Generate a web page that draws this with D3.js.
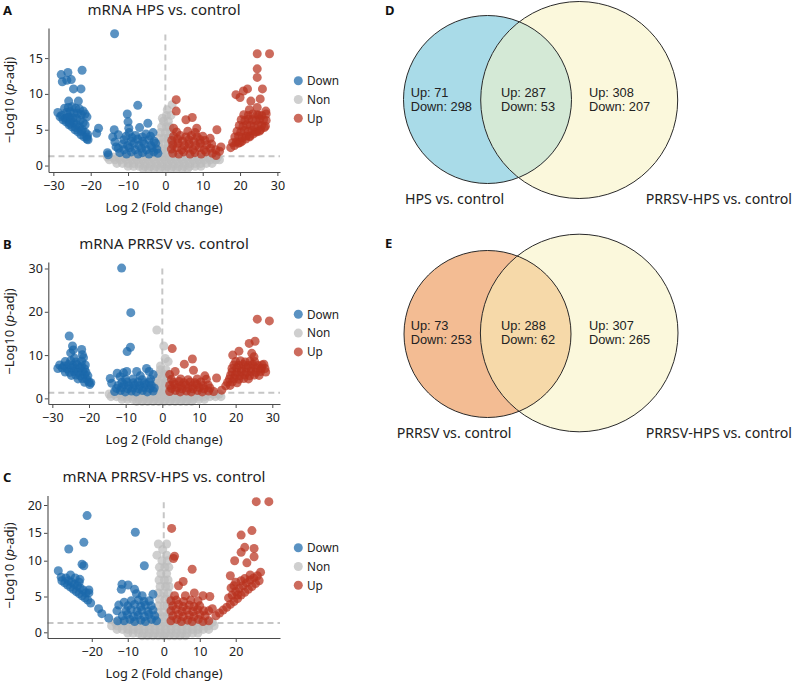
<!DOCTYPE html>
<html><head><meta charset="utf-8">
<script src="https://cdn.jsdelivr.net/npm/d3@7"></script>
<style>body{margin:0;background:#fff} svg{display:block}</style>
</head><body><svg id="c" width="793" height="683"></svg>
<script>
// ---------------- DATA ----------------
const legendLabels = ["Down", "Non", "Up"];
const volcanoTitles = ["mRNA HPS vs. control", "mRNA PRRSV vs. control", "mRNA PRRSV-HPS vs. control"];
const panelLetters = ["A", "B", "C", "D", "E"];
const xTicksA = [-30, -20, -10, 0, 10, 20, 30];
const xTicksB = [-30, -20, -10, 0, 10, 20, 30];
const xTicksC = [-20, -10, 0, 10, 20];
const yTicksA = [0, 5, 10, 15];
const yTicksB = [0, 10, 20, 30];
const yTicksC = [0, 5, 10, 15, 20];
const pAdjCut = 1.3;   // -log10(0.05)
const foldCut = 0;

// Panel A: HPS vs control  [log2FC, -log10 padj]
const hpsDown = [
[-13.6,18.4],[-22.3,13.3],[-27.9,12.7],[-26.1,13.0],[-27.6,11.7],[-25.2,12.0],[-26.4,11.9],[-24.6,10.7],[-22.6,10.7],[-25.9,9.0],[-23.3,9.0],[-28.8,7.4],
[-27,8.0],[-26,8.1],[-25,8.2],[-24,8.0],[-23,7.9],[-22,7.6],[-26.5,7.4],[-25.5,7.5],[-24.5,7.3],[-23.5,7.3],[-22.5,7.1],[-21.5,7.2],[-21,6.8],[-27.8,7.0],[-26.8,6.6],[-25.8,6.8],[-24.8,6.6],[-23.8,6.6],[-22.8,6.3],[-22,6.0],[-21.5,5.7],
[-28.2,6.8],[-27.4,6.4],[-26.6,6.1],[-25.8,5.7],[-25,5.4],[-24.2,5.0],[-23.4,4.7],[-22.6,4.3],[-21.8,4.0],[-21,3.7],
[-26.2,6.7],[-25.4,6.3],[-24.6,6.0],[-23.8,5.7],[-23,5.4],[-22.2,5.0],[-21.4,4.6],[-20.8,4.3],[-25.6,5.9],[-24,5.3],[-22.5,4.8],[-21,4.0],[-20.7,3.6],
[-17.9,5.2],[-18.4,4.5],[-15.5,1.8],[-15.3,1.5],
[-10.2,7.2],[-7.4,8.4],[-10,6.1],[-9.8,5.2],[-6.9,5.3],[-4.7,5.9],[-13.7,5.0],[-14.1,4.0],[-9.7,4.6],[-13.5,3.3],[-13.2,2.6],
[-12.2,1.8],[-10.4,1.6],[-9.1,1.9],[-7.3,1.6],[-6.1,1.8],[-4.4,1.6],[-3.1,1.9],[-2.0,1.7],
[-12.6,2.4],[-11.1,2.2],[-9.6,2.5],[-8.1,2.2],[-6.4,2.4],[-5.1,2.2],[-3.6,2.5],[-2.3,2.3],
[-11.4,3.0],[-10.1,2.8],[-8.4,3.1],[-7.1,2.8],[-5.6,3.0],[-3.9,2.8],[-2.6,3.1],
[-11.1,3.6],[-9.2,3.4],[-7.4,3.7],[-6.1,3.4],[-4.4,3.6],[-3.0,3.4],
[-10.5,4.1],[-8,4.2],[-6.2,4.0],[-4,4.1],
[-12.6,4.3],[-8.9,3.9],[-5.2,4.4],[-3.3,4.6]
];
const hpsUp = [
[24.6,15.6],[27.9,15.6],[24.6,13.5],[24.6,12.3],[22.0,10.7],[26.0,10.7],[18.9,9.9],[20.0,9.5],[20.9,10.4],[22.9,9.0],[25.4,9.3],[24.6,8.1],[22.5,7.8],[26.9,7.6],[25.0,7.0],
[17.5,2.5],[18.5,2.8],[19.5,3.1],[20.5,3.4],[21.5,3.7],[22.5,4.1],[23.5,4.4],[24.5,4.7],[25.5,5.0],[26.5,5.3],
[18,3.2],[19,3.3],[20,3.2],
[18.6,4.0],[19.6,4.1],[20.6,3.9],[21.6,4.1],[22.6,4.0],
[19.2,4.8],[20.2,4.7],[21.2,4.9],[22.2,4.8],[23.2,4.9],[24.2,4.7],[25.2,4.8],
[19.8,5.6],[20.8,5.5],[21.8,5.7],[22.8,5.6],[23.8,5.5],[24.8,5.7],[25.8,5.6],[26.8,5.5],
[20.3,6.4],[21.3,6.3],[22.3,6.5],[23.3,6.4],[24.3,6.3],[25.3,6.5],[26.3,6.4],[27,6.3],
[21,7.1],[22.2,7.0],[23.4,7.2],[24.6,7.1],[25.8,7.0],[27,7.2],
[2.0,1.7],[3.6,1.6],[4.9,1.9],[6.6,1.6],[7.9,1.8],[9.6,1.6],[10.9,1.9],[12.6,1.7],
[1.6,2.3],[3.1,2.5],[4.4,2.2],[6.1,2.4],[7.4,2.2],[9.1,2.5],[10.4,2.2],[12.1,2.4],[13.5,2.2],
[2.0,2.9],[3.4,3.1],[5.1,2.8],[6.4,3.0],[8.1,2.8],[9.4,3.1],[11.1,2.9],[12.4,3.0],
[1.7,3.5],[3.3,3.7],[4.6,3.4],[6.3,3.6],[7.6,3.4],[9.3,3.6],[10.6,3.5],
[2.2,4.1],[4,4.2],[5.5,4.0],[7,4.2],[8.5,4.0],[10,4.1],
[3,4.7],[6,4.8],[8,4.6],
[2.9,9.2],[2.9,7.6],[5.5,6.4],[7.2,6.7],[8.4,5.2],[13.8,5.0],[14.9,2.6],[13.6,1.4],[2.2,5.2],[12,3.8],[14.5,2.0]
];
const hpsNon = [
[-6,-0.4],[-4.5,-0.4],[-3,-0.4],[-1.5,-0.4],[0,-0.4],[1.5,-0.4],[3,-0.4],[4.5,-0.4],[6,-0.4],
[-10,-0.1],[-8.5,-0.1],[-7,-0.1],[-5.5,-0.1],[-4,-0.1],[-2.5,-0.1],[-1,-0.1],[0.5,-0.1],[2,-0.1],[3.5,-0.1],[5,-0.1],[6.5,-0.1],[8,-0.1],[9.5,-0.1],
[-13,0.3],[-11.5,0.3],[-10,0.3],[-8.5,0.3],[-7,0.3],[-5.5,0.3],[-4,0.3],[-2.5,0.3],[-1,0.3],[0.5,0.3],[2,0.3],[3.5,0.3],[5,0.3],[6.5,0.3],[8,0.3],[9.5,0.3],[11,0.3],[12.5,0.3],
[-15,0.8],[-13.5,0.8],[-12,0.8],[-10.5,0.8],[-9,0.8],[-7.5,0.8],[-6,0.8],[-4.5,0.8],[-3,0.8],[-1.5,0.8],[0,0.8],[1.5,0.8],[3,0.8],[4.5,0.8],[6,0.8],[7.5,0.8],[9,0.8],[10.5,0.8],[12,0.8],[13.5,0.8],[14.5,0.8],
[-15.5,1.2],[-14,1.2],[-12.5,1.2],[-11,1.2],[-9.5,1.2],[-8,1.2],[-6.5,1.2],[-5,1.2],[-3.5,1.2],[-2,1.2],[-0.5,1.2],[1,1.2],[2.5,1.2],[4,1.2],[5.5,1.2],[7,1.2],[8.5,1.2],[10,1.2],[11.5,1.2],[13,1.2],[14,1.2],
[-4,1.7],[-2.5,1.7],[-1,1.7],[0.5,1.7],[2,1.7],
[-2,2.3],[-0.8,2.3],[0.5,2.3],[1.6,2.3],
[-1.8,3.0],[-0.5,3.0],[0.8,3.0],[1.8,3.0],
[-1.6,3.8],[-0.4,3.8],[0.7,3.8],[1.6,3.8],
[-1.3,4.6],[0,4.6],[1.2,4.6],
[-1,5.4],[0.3,5.4],[1.2,5.4],
[-0.5,6.2],[0.8,6.2],[0.3,7.0],[1.5,7.0],
[1.8,8.5],[-0.8,6.6],[0.5,7.8]
];

// Panel B: PRRSV vs control
const prrsvDown = [
[-11.1,30.1],[-8.6,19.8],[-8.7,11.8],[-9.6,10.8],[-25.4,14.4],[-24.5,12.1],[-24.3,11.2],[-22.0,11.3],[-21.8,10.1],[-21.5,9.4],[-24,9.3],[-25,10.5],
[-26.5,8.5],[-25,8.7],[-23.5,8.4],[-22,8.6],
[-28,7.7],[-26.8,7.5],[-25.6,7.8],[-24.4,7.6],[-23.2,7.8],[-22,7.5],[-21,7.7],
[-28.5,6.9],[-27.3,7.0],[-26,6.8],[-24.8,7.0],[-23.6,6.8],[-22.4,7.0],[-21.2,6.8],
[-26.5,6.1],[-25.3,6.0],[-24.1,6.2],[-22.9,6.0],[-21.7,6.2],[-20.8,6.0],
[-24.8,5.3],[-23.6,5.4],[-22.4,5.2],[-21.2,5.4],[-20.3,5.2],
[-23,4.5],[-21.8,4.6],[-20.6,4.4],
[-21.2,3.7],[-20,3.8],[-19.5,3.6],[-19.8,3.2],
[-12.3,5.8],[-10.6,5.9],[-9.7,6.2],[-7.0,6.2],[-4.3,6.9],[-3.6,6.2],[-14.2,4.6],[-13.8,3.5],[-11.5,5.0],[-6,5.2],[-2.5,5.5],
[-13,1.6],[-11.4,1.8],[-10.1,1.5],[-8.4,1.7],[-7.1,1.5],[-5.4,1.8],[-4.1,1.5],[-2.5,1.7],
[-12.5,2.3],[-11.1,2.5],[-9.4,2.2],[-8.1,2.4],[-6.4,2.2],[-5.1,2.5],[-3.4,2.3],[-2.2,2.4],
[-12,3.0],[-10.4,3.2],[-9.1,2.9],[-7.4,3.1],[-6.1,2.9],[-4.4,3.2],[-3,3.0],
[-11,3.7],[-9.6,3.8],[-7.9,3.6],[-6.6,3.8],[-4.9,3.6],[-3.5,3.8],
[-10,4.4],[-8,4.5],[-5.5,4.3],[-3.2,4.4]
];
const prrsvUp = [
[25.9,18.3],[29.2,17.9],[23.7,12.7],[25.3,13.2],[19.2,10.0],[20.9,10.9],[24.4,10.4],[25.0,9.6],[27.7,7.9],[27.1,7.0],
[20,8.5],[21.3,8.7],[22.6,8.4],[23.9,8.6],[25.2,8.5],
[19.5,7.7],[20.8,7.6],[22.1,7.8],[23.4,7.6],[24.7,7.8],[26,7.6],[27.2,7.7],
[19,6.9],[20.3,7.0],[21.6,6.8],[22.9,7.0],[24.2,6.8],[25.5,7.0],[26.8,6.8],[28,6.9],
[19,6.1],[20.3,6.0],[21.6,6.2],[22.9,6.0],[24.2,6.2],[25.5,6.0],[26.8,6.2],[28.2,6.1],
[18.6,5.3],[19.9,5.4],[21.2,5.2],[22.5,5.4],[23.8,5.2],[25.1,5.4],[26.4,5.3],
[18.3,4.5],[19.6,4.6],[20.9,4.4],[22.2,4.6],[23.5,4.5],
[17.8,3.7],[19.1,3.8],[20.4,3.6],[17.3,2.9],[18.5,3.0],
[2.7,11.5],[8.2,9.1],[6.0,7.9],[3.5,6.2],[16.2,1.9],[14.8,4.7],[11.6,5.2],[8.5,6.5],[2,5.5],
[2,1.6],[3.6,1.8],[4.9,1.5],[6.6,1.7],[7.9,1.5],[9.6,1.8],[10.9,1.5],[12.6,1.7],[14,1.6],
[2.5,2.3],[4.1,2.5],[5.4,2.2],[7.1,2.4],[8.4,2.2],[10.1,2.5],[11.4,2.2],[13,2.4],
[2,3.0],[3.4,3.2],[5.1,2.9],[6.4,3.1],[8.1,2.9],[9.4,3.2],[11.1,3.0],[12.5,3.1],
[3,3.7],[4.6,3.9],[5.9,3.6],[7.6,3.8],[8.9,3.6],[10.5,3.8],
[2.5,4.4],[5,4.5],[7,4.3],[9.5,4.5],[12,4.4]
];
const prrsvNon = [
[-7,-0.7],[-5.5,-0.7],[-4,-0.7],[-2.5,-0.7],[-1,-0.7],[0.5,-0.7],[2,-0.7],[3.5,-0.7],[5,-0.7],[6.5,-0.7],[8,-0.7],
[-11,-0.2],[-9.5,-0.2],[-8,-0.2],[-6.5,-0.2],[-5,-0.2],[-3.5,-0.2],[-2,-0.2],[-0.5,-0.2],[1,-0.2],[2.5,-0.2],[4,-0.2],[5.5,-0.2],[7,-0.2],[8.5,-0.2],[10,-0.2],[11.5,-0.2],
[-14,0.4],[-12.5,0.4],[-11,0.4],[-9.5,0.4],[-8,0.4],[-6.5,0.4],[-5,0.4],[-3.5,0.4],[-2,0.4],[-0.5,0.4],[1,0.4],[2.5,0.4],[4,0.4],[5.5,0.4],[7,0.4],[8.5,0.4],[10,0.4],[11.5,0.4],[13,0.4],[14.5,0.4],[16,0.4],
[-14.5,1.0],[-13,1.0],[-11.5,1.0],[-10,1.0],[-8.5,1.0],[-7,1.0],[-5.5,1.0],[-4,1.0],[-2.5,1.0],[-1,1.0],[0.5,1.0],[2,1.0],[3.5,1.0],[5,1.0],[6.5,1.0],[8,1.0],[9.5,1.0],[11,1.0],[12.5,1.0],[14,1.0],[15.5,1.0],
[-4,1.8],[-2.5,1.8],[-1,1.8],[0.5,1.8],[2,1.8],
[-2.2,2.7],[-0.8,2.7],[0.6,2.7],[1.8,2.7],
[-1.8,3.6],[-0.5,3.6],[0.9,3.6],[1.9,3.6],
[-1.5,4.6],[0,4.6],[1.4,4.6],
[-1,5.6],[0.5,5.6],[1.5,5.6],
[-0.5,6.6],[1,6.6],
[-1.5,15.8],[0.4,12.1],[1.6,8.5],[0.8,9.2],[-0.5,7.5]
];

// Panel C: PRRSV-HPS vs control
const phDown = [
[-21.3,18.1],[-7.9,15.1],[-26.4,12.1],[-22.2,13.3],[-22.7,9.5],[-22.2,9.3],[-29.3,8.6],[-5.4,9.3],[-25.9,8.0],[-23.3,7.4],[-28.5,7.7],
[-28.3,7.2],[-27.5,6.9],[-26.7,6.6],[-25.9,6.3],[-25.1,6.0],[-24.3,5.7],[-23.5,5.4],[-22.7,5.1],[-21.9,4.8],[-21.1,4.5],[-20.3,4.1],
[-27.2,7.6],[-26.4,7.2],[-25.6,7.0],[-24.8,6.7],[-24,6.5],[-23.2,6.2],[-22.4,5.9],[-21.6,5.5],[-20.8,5.5],[-24.6,7.6],[-23.5,7.0],
[-20.8,5.9],[-18.1,3.3],[-17.2,2.6],[-15.3,2.0],[-12.5,3.8],[-12.8,1.6],[-11.6,6.7],[-11.8,6.0],[-9.9,6.6],[-8.1,6.0],[-7.6,5.4],[-13,3.0],
[-11,1.6],[-9.4,1.8],[-8.1,1.5],[-6.4,1.7],[-5.1,1.5],[-3.4,1.8],[-2,1.6],
[-11.5,2.3],[-10.1,2.5],[-8.4,2.2],[-7.1,2.4],[-5.4,2.2],[-4.1,2.5],[-2.5,2.3],
[-10.5,3.0],[-9.1,3.2],[-7.4,2.9],[-6.1,3.1],[-4.4,2.9],[-3,3.1],
[-10,3.7],[-8.1,3.9],[-6.4,3.6],[-5.1,3.8],[-3.5,3.7],
[-9,4.4],[-7,4.5],[-5.5,4.3],[-4,4.4],
[-11,4.2],[-6,5.1],[-3,5.3]
];
const phUp = [
[25.7,20.6],[29.2,20.6],[2.2,15.8],[21.5,14.6],[24.5,15.4],[22.5,12.4],[25.1,12.2],[21.5,11.5],[2.7,10.4],[3.0,10.8],[19.7,10.0],[23.1,9.7],[25.1,10.7],[7.9,8.8],[18.5,7.9],[26.9,8.4],
[14.5,2.3],[15.5,2.7],[16.5,3.1],[17.5,3.5],[18.5,3.9],[19.5,4.3],[20.5,4.7],[21.5,5.2],[22.5,5.6],[23.5,6.0],[24.5,6.4],[25.5,6.8],[26.5,7.2],
[18,4.8],[19,5.2],[20,5.7],[21,6.1],[22,6.5],[23,6.9],[24,7.3],[25,7.6],[19.5,6.5],[21.5,7.2],[20.5,5.2],[20,7.0],[22.5,7.5],[24,8.0],[18.7,6.2],[26,7.9],
[5.4,7.1],[4.1,6.5],[10.9,5.1],[12.8,5.0],[13.5,3.3],[8.5,5.5],
[2,1.6],[3.6,1.8],[4.9,1.5],[6.6,1.7],[7.9,1.5],[9.6,1.8],[10.9,1.5],[12.5,1.6],
[2.5,2.3],[4.1,2.5],[5.4,2.2],[7.1,2.4],[8.4,2.2],[10.1,2.5],[11.5,2.3],
[2,3.0],[3.4,3.2],[5.1,2.9],[6.4,3.1],[8.1,2.9],[9.4,3.2],[11.1,3.0],[12.5,3.0],
[2.5,3.7],[4.1,3.9],[5.4,3.6],[7.1,3.8],[8.4,3.6],[10,3.7],
[2,4.4],[3.5,4.5],[5.5,4.3],[7.5,4.5],[9.5,4.4],
[3,5.1],[6,5.1]
];
const phNon = [
[-6,-0.5],[-4.5,-0.5],[-3,-0.5],[-1.5,-0.5],[0,-0.5],[1.5,-0.5],[3,-0.5],[4.5,-0.5],[6,-0.5],
[-10,-0.1],[-8.5,-0.1],[-7,-0.1],[-5.5,-0.1],[-4,-0.1],[-2.5,-0.1],[-1,-0.1],[0.5,-0.1],[2,-0.1],[3.5,-0.1],[5,-0.1],[6.5,-0.1],[8,-0.1],[9.5,-0.1],
[-13,0.4],[-11.5,0.4],[-10,0.4],[-8.5,0.4],[-7,0.4],[-5.5,0.4],[-4,0.4],[-2.5,0.4],[-1,0.4],[0.5,0.4],[2,0.4],[3.5,0.4],[5,0.4],[6.5,0.4],[8,0.4],[9.5,0.4],[11,0.4],[12.5,0.4],
[-14.5,0.9],[-13,0.9],[-11.5,0.9],[-10,0.9],[-8.5,0.9],[-7,0.9],[-5.5,0.9],[-4,0.9],[-2.5,0.9],[-1,0.9],[0.5,0.9],[2,0.9],[3.5,0.9],[5,0.9],[6.5,0.9],[8,0.9],[9.5,0.9],[11,0.9],[12.5,0.9],[14,0.9],
[-13.5,1.4],[-12,1.4],[-10.5,1.4],[-9,1.4],[-7.5,1.4],[-6,1.4],[-4.5,1.4],[-3,1.4],[-1.5,1.4],[0,1.4],[1.5,1.4],[3,1.4],[4.5,1.4],[6,1.4],[7.5,1.4],[9,1.4],[10.5,1.4],[12,1.4],[13.5,1.4],
[-1.5,2.1],[0,2.1],[1.5,2.1],
[-1.5,2.8],[0,2.8],[1.5,2.8],[-1.5,3.7],[0,3.7],[1.5,3.7],
[-1.2,4.6],[0.3,4.6],[1.5,4.6],[-1.5,5.5],[0,5.5],[1.3,5.5],
[-1,6.4],[0.5,6.4],[1.5,6.4],[-1.3,7.3],[0.2,7.3],[1.2,7.3],
[-0.8,8.2],[0.8,8.2],[-1.2,9.1],[0.3,9.1],[1.4,9.1],
[-0.5,10.0],[1,10.0],[-1.9,11.0],[0.8,11.0],[-0.3,12.0],[-1.5,13.0],[0.8,13.0]
];

// Venn diagrams
const vennDSets = ["HPS vs. control", "PRRSV-HPS vs. control"];
const vennDUp = [71, 287, 308];      // left only, shared, right only
const vennDDown = [298, 53, 207];
const vennESets = ["PRRSV vs. control", "PRRSV-HPS vs. control"];
const vennEUp = [73, 288, 307];
const vennEDown = [253, 62, 265];

// ---------------- DRAWING ----------------
const svg = d3.select("#c");
const FONT = "'Noto Sans', 'Open Sans', sans-serif";
const FONT_COUNTS = "'Liberation Sans', Arial, sans-serif";
const COLORS = {Down: "#1b68aa", Non: "#bdbdbd", Up: "#b8321f"};
const OPAC = 0.72;

function volcano(p) {
  const g = svg.append("g");
  const x = d3.scaleLinear().domain(p.xDomain).range([p.left, p.right]);
  const y = d3.scaleLinear().domain(p.yDomain).range(p.yRange);
  const yBottom = p.yRange[0];

  g.append("line").attr("x1", x(foldCut)).attr("x2", x(foldCut))
    .attr("y1", y(p.vTop)).attr("y2", yBottom)
    .attr("stroke", "#c6c6c6").attr("stroke-width", 2).attr("stroke-dasharray", "6,4");
  g.append("line").attr("x1", p.left).attr("x2", p.right)
    .attr("y1", y(pAdjCut)).attr("y2", y(pAdjCut))
    .attr("stroke", "#c6c6c6").attr("stroke-width", 2).attr("stroke-dasharray", "6,4");

  [["Non", p.non], ["Down", p.down], ["Up", p.up]].forEach(([k, arr]) => {
    g.append("g").selectAll("circle").data(arr).join("circle")
      .attr("cx", d => x(d[0])).attr("cy", d => y(d[1])).attr("r", 4.5)
      .attr("fill", COLORS[k]).attr("fill-opacity", OPAC);
  });

  const xa = g.append("g").attr("transform", `translate(0,${yBottom})`)
    .call(d3.axisBottom(x).tickValues(p.xTicks).tickSize(4).tickPadding(5).tickSizeOuter(0));
  const ya = g.append("g").attr("transform", `translate(${p.left},0)`)
    .call(d3.axisLeft(y).tickValues(p.yTicks).tickSize(3.5).tickPadding(2).tickSizeOuter(0));
  [xa, ya].forEach(a => {
    a.select(".domain").attr("stroke", "#4a4a4a").attr("stroke-width", 1.1);
    a.selectAll(".tick line").attr("stroke", "#4a4a4a");
    a.selectAll("text").attr("font-family", FONT).attr("font-size", 12.5).attr("fill", "#222");
  });

  g.append("text").attr("x", 164).attr("y", p.titleY).attr("text-anchor", "middle")
    .attr("font-family", FONT).attr("font-size", 15).attr("fill", "#222").text(p.title);
  g.append("text").attr("x", 3).attr("y", p.titleY).attr("font-family", FONT)
    .attr("font-size", 13).attr("font-weight", "bold").attr("fill", "#111").text(p.letter);
  g.append("text").attr("x", 164).attr("y", yBottom + 40).attr("text-anchor", "middle")
    .attr("font-family", FONT).attr("font-size", 12.8).attr("fill", "#222").text("Log 2 (Fold change)");
  const yl = g.append("text").attr("transform", `translate(13.5,${p.yLabelC}) rotate(-90)`)
    .attr("text-anchor", "middle").attr("font-family", FONT).attr("font-size", 13).attr("fill", "#222");
  yl.append("tspan").text("\u2212Log10 (");
  yl.append("tspan").attr("font-style", "italic").text("p");
  yl.append("tspan").text("-adj)");

  legendLabels.forEach((lab, i) => {
    const ly = p.legendY + i * 18.8;
    g.append("circle").attr("cx", 298.3).attr("cy", ly).attr("r", 4.5)
      .attr("fill", COLORS[lab]).attr("fill-opacity", OPAC);
    g.append("text").attr("x", 307).attr("y", ly + 4.3).attr("font-family", FONT)
      .attr("font-size", 11.8).attr("fill", "#222").text(lab);
  });
}

volcano({letter: panelLetters[0], title: volcanoTitles[0], titleY: 15,
  left: 48.5, right: 280, xDomain: [-31.3, 30.7], yDomain: [-0.9, 19.2], yRange: [172, 28],
  xTicks: xTicksA, yTicks: yTicksA, vTop: 18.3, yLabelC: 100, legendY: 80.7,
  down: hpsDown, up: hpsUp, non: hpsNon});
volcano({letter: panelLetters[1], title: volcanoTitles[1], titleY: 248.5,
  left: 48.3, right: 280, xDomain: [-31.1, 32.1], yDomain: [-1.3, 31.5], yRange: [404, 262],
  xTicks: xTicksB, yTicks: yTicksB, vTop: 30, yLabelC: 331.5, legendY: 314.3,
  down: prrsvDown, up: prrsvUp, non: prrsvNon});
volcano({letter: panelLetters[2], title: volcanoTitles[2], titleY: 482,
  left: 47.5, right: 280, xDomain: [-32.3, 32.3], yDomain: [-0.8, 0, 10, 20, 21.7], yRange: [638, 632.3, 560.7, 505, 495.5],
  xTicks: xTicksC, yTicks: yTicksC, vTop: 20.5, yLabelC: 565.5, legendY: 547.7,
  down: phDown, up: phUp, non: phNon});

function venn(v) {
  const g = svg.append("g");
  const id = "clip" + v.letter;
  g.append("clipPath").attr("id", id).append("circle")
    .attr("cx", v.c2[0]).attr("cy", v.c2[1]).attr("r", v.c2[2]);
  g.append("circle").attr("cx", v.c2[0]).attr("cy", v.c2[1]).attr("r", v.c2[2]).attr("fill", v.fill2);
  g.append("circle").attr("cx", v.c1[0]).attr("cy", v.c1[1]).attr("r", v.c1[2]).attr("fill", v.fill1);
  g.append("circle").attr("cx", v.c1[0]).attr("cy", v.c1[1]).attr("r", v.c1[2]).attr("fill", v.fill12)
    .attr("clip-path", `url(#${id})`);
  [v.c1, v.c2].forEach(c => g.append("circle").attr("cx", c[0]).attr("cy", c[1]).attr("r", c[2])
    .attr("fill", "none").attr("stroke", "#2a2a2a").attr("stroke-width", 1));
  const xs = [410.7, 501, 589];
  v.up.forEach((u, i) => {
    const t = g.append("text").attr("x", xs[i]).attr("y", v.textY).attr("font-family", FONT_COUNTS)
      .attr("font-size", 12.8).attr("fill", "#222");
    t.append("tspan").attr("x", xs[i]).text("Up: " + u);
    t.append("tspan").attr("x", xs[i]).attr("dy", 14.5).text("Down: " + v.down[i]);
  });
  g.append("text").attr("x", v.lab1X).attr("y", v.labY).attr("font-family", FONT)
    .attr("font-size", 14.2).attr("fill", "#222").text(v.sets[0]);
  g.append("text").attr("x", 645.7).attr("y", v.labY).attr("font-family", FONT)
    .attr("font-size", 14.2).attr("fill", "#222").text(v.sets[1]);
  g.append("text").attr("x", 385).attr("y", v.letterY).attr("font-family", FONT)
    .attr("font-size", 13).attr("font-weight", "bold").attr("fill", "#111").text(v.letter);
}

venn({letter: panelLetters[3], sets: vennDSets, up: vennDUp, down: vennDDown,
  c1: [487.5, 99.5, 84], c2: [579.2, 100, 98.5],
  fill1: "#a9dbe8", fill2: "#fbf8dc", fill12: "#d4e9d6",
  textY: 96.5, labY: 204, lab1X: 405, letterY: 15});
venn({letter: panelLetters[4], sets: vennESets, up: vennEUp, down: vennEDown,
  c1: [487.5, 334, 83.5], c2: [579.2, 333, 98.8],
  fill1: "#f3bc93", fill2: "#fbf8dc", fill12: "#f6d9a9",
  textY: 329.7, labY: 438, lab1X: 396.7, letterY: 248});
</script>
</body></html>
